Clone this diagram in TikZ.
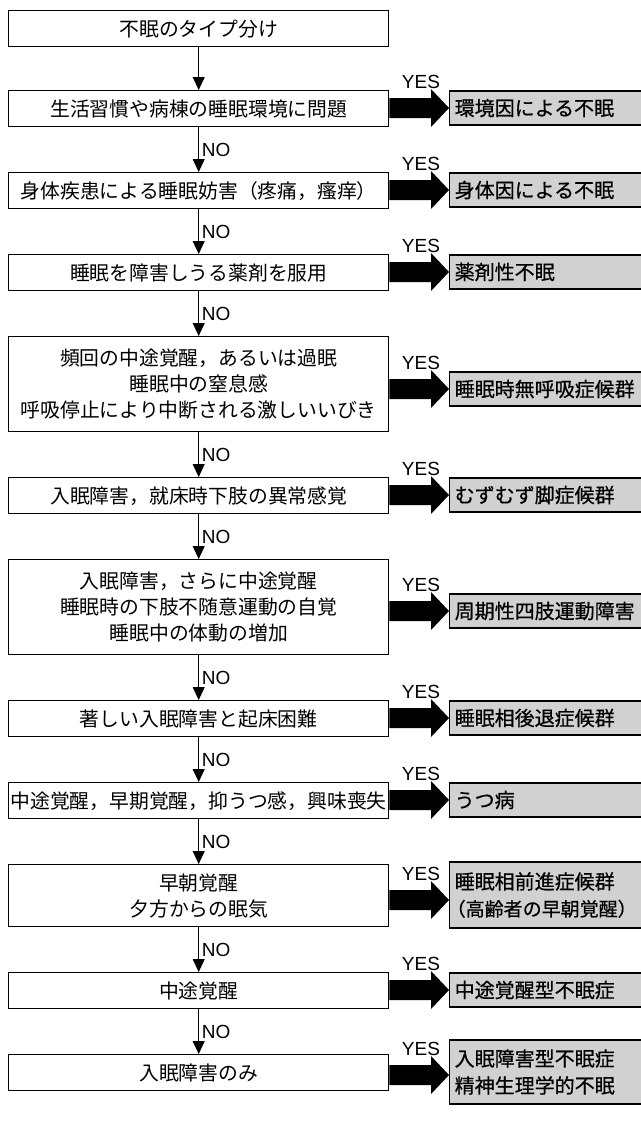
\documentclass[tikz,border=0pt]{standalone}
\usepackage{fontspec}
\setmainfont{Liberation Sans}
\newfontfamily\jp{Noto Sans CJK JP}
\newfontfamily\jpb[FakeBold=0.6]{Noto Sans CJK JP}
\usetikzlibrary{arrows.meta,calc}

\newcommand\yesarrow[3]{%
  \coordinate (ya) at (0,#3);
  \coordinate (ys) at (#1.east |- ya);
  \coordinate (yt) at (#2.west |- ya);
  \fill[black] ($(ys)+(0,-10)$) -- ($(yt)+(-18,-10)$) -- ($(yt)+(-18,-19)$) -- (yt)
     -- ($(yt)+(-18,19)$) -- ($(yt)+(-18,10)$) -- ($(ys)+(0,10)$) -- cycle;
  \node[yeslbl] at ($(yt)+(-28,-19)$) {YES};
}
\newcommand\noarrow[2]{%
  \draw[vline] (#1.south) -- (#2.north);
  \node[nolbl] at ($(#1.south)!0.5!(#2.north)+(3,0)$) {NO};
}

\begin{document}
\begin{tikzpicture}[x=1pt,y=-1pt,
  qbox/.style={draw, line width=1.4pt, minimum width=380pt, minimum height=36pt,
    inner sep=0pt, align=center, anchor=north west,
    font=\jp\fontsize{19.8}{26}\selectfont},
  rbox/.style={draw, line width=1.4pt, fill=black!18, minimum width=200pt,
    minimum height=34pt, inner xsep=3pt, inner ysep=0pt, text width=190pt,
    align=left, anchor=west, font=\jpb\fontsize{20}{27}\selectfont},
  vline/.style={line width=1pt, -{Triangle[length=13pt,width=12pt]}},
  yeslbl/.style={anchor=south, inner sep=0pt, font=\fontsize{19}{19}\selectfont},
  nolbl/.style={anchor=west, inner sep=0pt, font=\fontsize{19}{19}\selectfont}]
\fill[white] (0,0) rectangle (640,1135);
\useasboundingbox (0,0) rectangle (640,1135);

% question boxes
\node[qbox] (b0) at (8,10) {不眠のタイプ分け};
\node[qbox] (b1) at (8,90) {生活習慣や病棟の睡眠環境に問題};
\node[qbox] (b2) at (8,172) {身体疾患による睡眠妨害（疼痛，瘙痒）};
\node[qbox] (b3) at (8,254) {睡眠を障害しうる薬剤を服用};
\node[qbox, minimum height=95pt] (b4) at (8,336) {頻回の中途覚醒，あるいは過眠\\睡眠中の窒息感\\呼吸停止により中断される激しいいびき};
\node[qbox] (b5) at (8,477) {入眠障害，就床時下肢の異常感覚};
\node[qbox, minimum height=95pt] (b6) at (8,559) {入眠障害，さらに中途覚醒\\睡眠時の下肢不随意運動の自覚\\睡眠中の体動の増加};
\node[qbox] (b7) at (8,700) {著しい入眠障害と起床困難};
\node[qbox] (b8) at (8,782) {中途覚醒，早期覚醒，抑うつ感，興味喪失};
\node[qbox, minimum height=62pt] (b9) at (8,864) {早朝覚醒\\夕方からの眠気};
\node[qbox] (b10) at (8,972) {中途覚醒};
\node[qbox] (b11) at (8,1054) {入眠障害のみ};

% result boxes
\node[rbox] (r1) at (449,108) {環境因による不眠};
\node[rbox] (r2) at (449,190) {身体因による不眠};
\node[rbox] (r3) at (449,272) {薬剤性不眠};
\node[rbox] (r4) at (449,389) {睡眠時無呼吸症候群};
\node[rbox] (r5) at (449,495) {むずむず脚症候群};
\node[rbox] (r6) at (449,611) {周期性四肢運動障害};
\node[rbox] (r7) at (449,718) {睡眠相後退症候群};
\node[rbox] (r8) at (449,800) {うつ病};
\node[rbox, minimum height=66pt] (r9) at (449,895) {睡眠相前進症候群\\\hspace*{-8pt}{\fontsize{19}{27}\selectfont（高齢者の早朝覚醒）}};
\node[rbox] (r10) at (449,990) {中途覚醒型不眠症};
\node[rbox, minimum height=64pt] (r11) at (449,1072) {入眠障害型不眠症\\精神生理学的不眠};

% NO arrows
\draw[vline] (b0.south) -- (b1.north);
\noarrow{b1}{b2}
\noarrow{b2}{b3}
\noarrow{b3}{b4}
\noarrow{b4}{b5}
\noarrow{b5}{b6}
\noarrow{b6}{b7}
\noarrow{b7}{b8}
\noarrow{b8}{b9}
\noarrow{b9}{b10}
\noarrow{b10}{b11}

% YES arrows
\yesarrow{b1}{r1}{108}
\yesarrow{b2}{r2}{190}
\yesarrow{b3}{r3}{272}
\yesarrow{b4}{r4}{389}
\yesarrow{b5}{r5}{495}
\yesarrow{b6}{r6}{611}
\yesarrow{b7}{r7}{718}
\yesarrow{b8}{r8}{800}
\yesarrow{b9}{r9}{900}
\yesarrow{b10}{r10}{990}
\yesarrow{b11}{r11}{1075}
\end{tikzpicture}
\end{document}
